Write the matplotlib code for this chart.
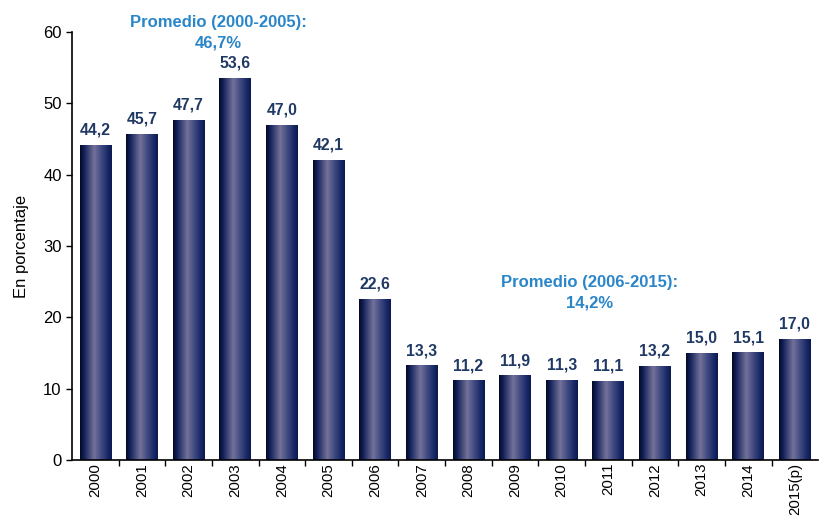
import numpy as np
import matplotlib

matplotlib.use("Agg")
import matplotlib.pyplot as plt
from matplotlib.colors import LinearSegmentedColormap

years = ["2000", "2001", "2002", "2003", "2004", "2005", "2006", "2007",
         "2008", "2009", "2010", "2011", "2012", "2013", "2014", "2015(p)"]
values = [44.2, 45.7, 47.7, 53.6, 47.0, 42.1, 22.6, 13.3,
          11.2, 11.9, 11.3, 11.1, 13.2, 15.0, 15.1, 17.0]
avg_labels = ["Promedio (2000-2005):\n46,7%", "Promedio (2006-2015):\n14,2%"]

NARROW = ["Liberation Sans Narrow", "Liberation Sans", "DejaVu Sans"]
plt.rcParams["font.family"] = ["Liberation Sans", "DejaVu Sans"]

bar_cmap = LinearSegmentedColormap.from_list(
    "bar", [(0.0, "#04081f"), (0.12, "#101f58"), (0.45, "#747299"),
            (0.6, "#4f5689"), (0.88, "#172766"), (1.0, "#0d1a4e")])
grad = np.linspace(0, 1, 256).reshape(1, -1)

fig = plt.figure(figsize=(8.19, 5.17), dpi=100)
ax = fig.add_axes([0.088, 0.110, 0.911, 0.828])

width = 0.68
x = np.arange(len(years))
bars = ax.bar(x, values, width=width, color="none", edgecolor="none")
for b, v in zip(bars, values):
    x0 = b.get_x()
    im = ax.imshow(grad, cmap=bar_cmap, aspect="auto",
                   extent=[x0, x0 + width, 0, v], zorder=2)
    im.set_clip_path(b)
    ax.text(x0 + width / 2, v + 1.0, f"{v:.1f}".replace(".", ","),
            ha="center", va="bottom", fontsize=11.3, fontweight="bold",
            color="#1f3864", family=NARROW)

ax.set_xlim(-0.5, len(years) - 0.5)
ax.set_ylim(0, 60)
ax.set_yticks(range(0, 61, 10))
ax.tick_params(axis="y", labelsize=12, length=4, direction="out", width=1)
ax.set_xticks(x)
ax.set_xticklabels(years, rotation=90, fontsize=10.8)
ax.tick_params(axis="x", length=0, pad=2)
ax.set_xticks(np.arange(0.5, len(years) - 1, 1), minor=True)
ax.tick_params(axis="x", which="minor", length=4, width=1, direction="out")
for s in ["top", "right"]:
    ax.spines[s].set_visible(False)
ax.spines["left"].set_linewidth(1.2)
ax.spines["bottom"].set_linewidth(1.2)
ax.set_ylabel("En porcentaje", fontsize=12, labelpad=10)

ax.text(2.63, 57.4, avg_labels[0], ha="center", va="bottom", fontsize=12,
        fontweight="bold", color="#2a86c9", family=NARROW,
        linespacing=1.45, clip_on=False)
ax.text(10.59, 21.0, avg_labels[1], ha="center", va="bottom", fontsize=12,
        fontweight="bold", color="#2a86c9", family=NARROW,
        linespacing=1.45, clip_on=False)

fig.savefig("out.png", dpi=100)
